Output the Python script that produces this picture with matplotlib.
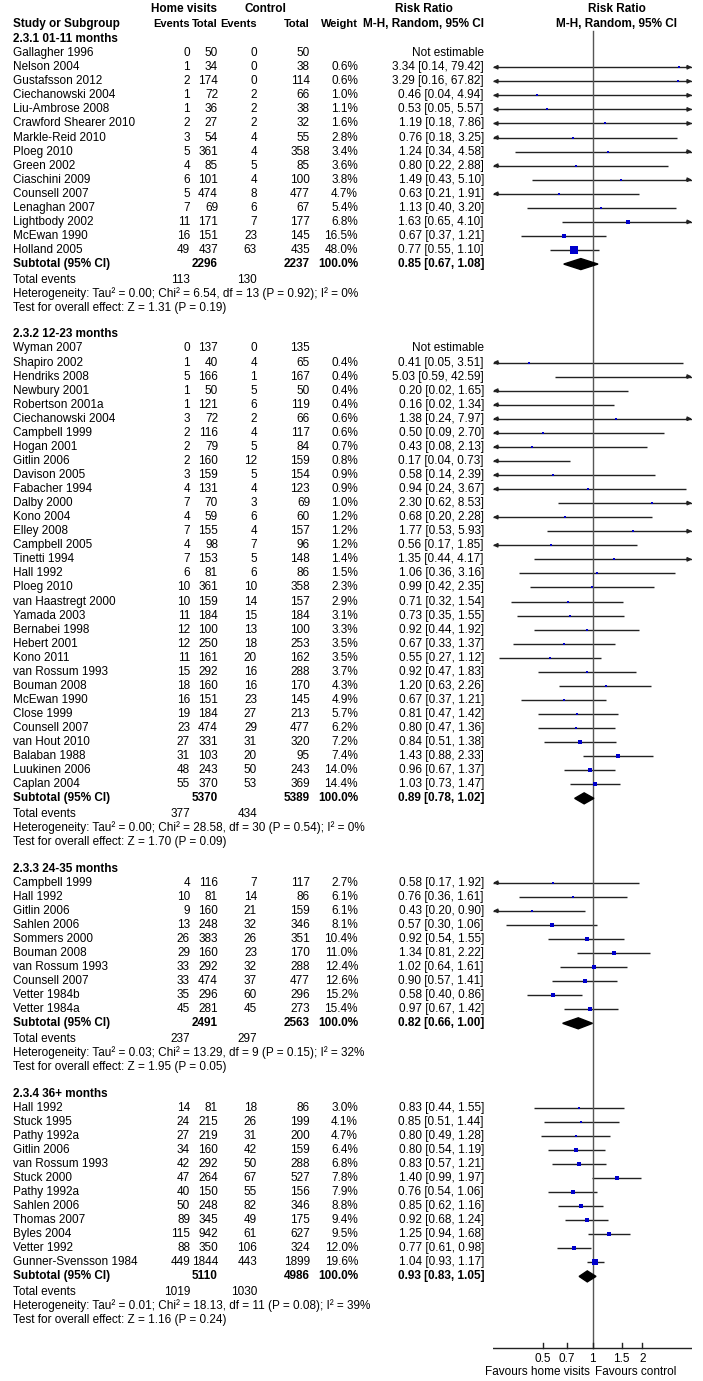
import matplotlib.pyplot as plt
from matplotlib.patches import Polygon

plt.rcParams['font.family'] = ['Liberation Sans', 'DejaVu Sans']

# ---- data -------------------------------------------------------------
titles = ["2.3.1 01-11 months", "2.3.2 12-23 months", "2.3.3 24-35 months", "2.3.4 36+ months"]

names1 = ["Gallagher 1996", "Nelson 2004", "Gustafsson 2012", "Ciechanowski 2004", "Liu-Ambrose 2008",
          "Crawford Shearer 2010", "Markle-Reid 2010", "Ploeg 2010", "Green 2002", "Ciaschini 2009",
          "Counsell 2007", "Lenaghan 2007", "Lightbody 2002", "McEwan 1990", "Holland 2005"]
ev_h1 = [0, 1, 2, 1, 1, 2, 3, 5, 4, 6, 5, 7, 11, 16, 49]
tot_h1 = [50, 34, 174, 72, 36, 27, 54, 361, 85, 101, 474, 69, 171, 151, 437]
ev_c1 = [0, 0, 0, 2, 2, 2, 4, 4, 5, 4, 8, 6, 7, 23, 63]
tot_c1 = [50, 38, 114, 66, 38, 32, 55, 358, 85, 100, 477, 67, 177, 145, 435]
w1 = [None, 0.6, 0.6, 1.0, 1.1, 1.6, 2.8, 3.4, 3.6, 3.8, 4.7, 5.4, 6.8, 16.5, 48.0]
rr1 = [None, 3.34, 3.29, 0.46, 0.53, 1.19, 0.76, 1.24, 0.80, 1.49, 0.63, 1.13, 1.63, 0.67, 0.77]
lo1 = [None, 0.14, 0.16, 0.04, 0.05, 0.18, 0.18, 0.34, 0.22, 0.43, 0.21, 0.40, 0.65, 0.37, 0.55]
hi1 = [None, 79.42, 67.82, 4.94, 5.57, 7.86, 3.25, 4.58, 2.88, 5.10, 1.91, 3.20, 4.10, 1.21, 1.10]

names2 = ["Wyman 2007", "Shapiro 2002", "Hendriks 2008", "Newbury 2001", "Robertson 2001a",
          "Ciechanowski 2004", "Campbell 1999", "Hogan 2001", "Gitlin 2006", "Davison 2005",
          "Fabacher 1994", "Dalby 2000", "Kono 2004", "Elley 2008", "Campbell 2005", "Tinetti 1994",
          "Hall 1992", "Ploeg 2010", "van Haastregt 2000", "Yamada 2003", "Bernabei 1998",
          "Hebert 2001", "Kono 2011", "van Rossum 1993", "Bouman 2008", "McEwan 1990", "Close 1999",
          "Counsell 2007", "van Hout 2010", "Balaban 1988", "Luukinen 2006", "Caplan 2004"]
ev_h2 = [0, 1, 5, 1, 1, 3, 2, 2, 2, 3, 4, 7, 4, 7, 4, 7, 6, 10, 10, 11, 12, 12, 11, 15, 18, 16,
         19, 23, 27, 31, 48, 55]
tot_h2 = [137, 40, 166, 50, 121, 72, 116, 79, 160, 159, 131, 70, 59, 155, 98, 153, 81, 361, 159,
          184, 100, 250, 161, 292, 160, 151, 184, 474, 331, 103, 243, 370]
ev_c2 = [0, 4, 1, 5, 6, 2, 4, 5, 12, 5, 4, 3, 6, 4, 7, 5, 6, 10, 14, 15, 13, 18, 20, 16, 16, 23,
         27, 29, 31, 20, 50, 53]
tot_c2 = [135, 65, 167, 50, 119, 66, 117, 84, 159, 154, 123, 69, 60, 157, 96, 148, 86, 358, 157,
          184, 100, 253, 162, 288, 170, 145, 213, 477, 320, 95, 243, 369]
w2 = [None, 0.4, 0.4, 0.4, 0.4, 0.6, 0.6, 0.7, 0.8, 0.9, 0.9, 1.0, 1.2, 1.2, 1.2, 1.4, 1.5, 2.3,
      2.9, 3.1, 3.3, 3.5, 3.5, 3.7, 4.3, 4.9, 5.7, 6.2, 7.2, 7.4, 14.0, 14.4]
rr2 = [None, 0.41, 5.03, 0.20, 0.16, 1.38, 0.50, 0.43, 0.17, 0.58, 0.94, 2.30, 0.68, 1.77, 0.56,
       1.35, 1.06, 0.99, 0.71, 0.73, 0.92, 0.67, 0.55, 0.92, 1.20, 0.67, 0.81, 0.80, 0.84, 1.43,
       0.96, 1.03]
lo2 = [None, 0.05, 0.59, 0.02, 0.02, 0.24, 0.09, 0.08, 0.04, 0.14, 0.24, 0.62, 0.20, 0.53, 0.17,
       0.44, 0.36, 0.42, 0.32, 0.35, 0.44, 0.33, 0.27, 0.47, 0.63, 0.37, 0.47, 0.47, 0.51, 0.88,
       0.67, 0.73]
hi2 = [None, 3.51, 42.59, 1.65, 1.34, 7.97, 2.70, 2.13, 0.73, 2.39, 3.67, 8.53, 2.28, 5.93, 1.85,
       4.17, 3.16, 2.35, 1.54, 1.55, 1.92, 1.37, 1.12, 1.83, 2.26, 1.21, 1.42, 1.36, 1.38, 2.33,
       1.37, 1.47]

names3 = ["Campbell 1999", "Hall 1992", "Gitlin 2006", "Sahlen 2006", "Sommers 2000", "Bouman 2008",
          "van Rossum 1993", "Counsell 2007", "Vetter 1984b", "Vetter 1984a"]
ev_h3 = [4, 10, 9, 13, 26, 29, 33, 33, 35, 45]
tot_h3 = [116, 81, 160, 248, 383, 160, 292, 474, 296, 281]
ev_c3 = [7, 14, 21, 32, 26, 23, 32, 37, 60, 45]
tot_c3 = [117, 86, 159, 346, 351, 170, 288, 477, 296, 273]
w3 = [2.7, 6.1, 6.1, 8.1, 10.4, 11.0, 12.4, 12.6, 15.2, 15.4]
rr3 = [0.58, 0.76, 0.43, 0.57, 0.92, 1.34, 1.02, 0.90, 0.58, 0.97]
lo3 = [0.17, 0.36, 0.20, 0.30, 0.54, 0.81, 0.64, 0.57, 0.40, 0.67]
hi3 = [1.92, 1.61, 0.90, 1.06, 1.55, 2.22, 1.61, 1.41, 0.86, 1.42]

names4 = ["Hall 1992", "Stuck 1995", "Pathy 1992a", "Gitlin 2006", "van Rossum 1993", "Stuck 2000",
          "Pathy 1992a", "Sahlen 2006", "Thomas 2007", "Byles 2004", "Vetter 1992",
          "Gunner-Svensson 1984"]
ev_h4 = [14, 24, 27, 34, 42, 47, 40, 50, 89, 115, 88, 449]
tot_h4 = [81, 215, 219, 160, 292, 264, 150, 248, 345, 942, 350, 1844]
ev_c4 = [18, 26, 31, 42, 50, 67, 55, 82, 49, 61, 106, 443]
tot_c4 = [86, 199, 200, 159, 288, 527, 156, 346, 175, 627, 324, 1899]
w4 = [3.0, 4.1, 4.7, 6.4, 6.8, 7.8, 7.9, 8.8, 9.4, 9.5, 12.0, 19.6]
rr4 = [0.83, 0.85, 0.80, 0.80, 0.83, 1.40, 0.76, 0.85, 0.92, 1.25, 0.77, 1.04]
lo4 = [0.44, 0.51, 0.49, 0.54, 0.57, 0.99, 0.54, 0.62, 0.68, 0.94, 0.61, 0.93]
hi4 = [1.55, 1.44, 1.28, 1.19, 1.21, 1.97, 1.06, 1.16, 1.24, 1.68, 0.98, 1.17]

sub_tot_h = [2296, 5370, 2491, 5110]
sub_tot_c = [2237, 5389, 2563, 4986]
sub_rr = [0.85, 0.89, 0.82, 0.93]
sub_lo = [0.67, 0.78, 0.66, 0.83]
sub_hi = [1.08, 1.02, 1.00, 1.05]
sub_ev_h = [113, 377, 237, 1019]
sub_ev_c = [130, 434, 297, 1030]
heterogeneity = ["Tau² = 0.00; Chi² = 6.54, df = 13 (P = 0.92); I² = 0%",
                 "Tau² = 0.00; Chi² = 28.58, df = 30 (P = 0.54); I² = 0%",
                 "Tau² = 0.03; Chi² = 13.29, df = 9 (P = 0.15); I² = 32%",
                 "Tau² = 0.01; Chi² = 18.13, df = 11 (P = 0.08); I² = 39%"]
overall = ["Z = 1.31 (P = 0.19)", "Z = 1.70 (P = 0.09)", "Z = 1.95 (P = 0.05)", "Z = 1.16 (P = 0.24)"]

ticks = [0.5, 0.7, 1, 1.5, 2]
tick_labels = ["0.5", "0.7", "1", "1.5", "2"]

sections = [
    (names1, ev_h1, tot_h1, ev_c1, tot_c1, w1, rr1, lo1, hi1),
    (names2, ev_h2, tot_h2, ev_c2, tot_c2, w2, rr2, lo2, hi2),
    (names3, ev_h3, tot_h3, ev_c3, tot_c3, w3, rr3, lo3, hi3),
    (names4, ev_h4, tot_h4, ev_c4, tot_c4, w4, rr4, lo4, hi4),
]

# ---- layout -----------------------------------------------------------
W, H = 703, 1381
XMIN, XMAX = 0.25, 4
FS = 8.5
fig = plt.figure(figsize=(W / 100, H / 100), dpi=100)
ax = fig.add_axes([0, 0, 1, 1])
ax.set_xlim(0, W)
ax.set_ylim(H, 0)
ax.axis('off')

# forest panel: log scale 0.25..4, same pixel rows as the table
X0, X1 = 493, 692
fx = fig.add_axes([X0 / W, 0, (X1 - X0) / W, 1])
fx.set_xscale('log')
fx.set_xlim(XMIN, XMAX)
fx.set_ylim(H, 0)
fx.axis('off')

c_name, c_evh, c_toth, c_evc, c_totc, c_w, c_ci = 13, 190, 218, 257, 310, 358, 484
ROW = 14.06
TOP = 11


def row_y(i):
    return TOP + i * ROW


def txt(x, y, s, ha='right', bold=False, size=FS):
    ax.text(x, y, s, ha=ha, va='center', fontsize=size,
            fontweight='bold' if bold else 'normal')


def ci_line(y, lo, hi):
    a, b = max(lo, XMIN), min(hi, XMAX)
    fx.plot([a, b], [y, y], color='#222222', lw=1, solid_capstyle='butt')
    arrow = dict(arrowstyle='-|>', color='#222222', lw=1, mutation_scale=6,
                 shrinkA=0, shrinkB=0)
    if lo < XMIN:
        fx.annotate('', xy=(XMIN, y), xytext=(XMIN * 1.08, y), arrowprops=arrow)
    if hi > XMAX:
        fx.annotate('', xy=(XMAX, y), xytext=(XMAX / 1.08, y), arrowprops=arrow)


# header
HS = 8
txt(184, 9, "Home visits", ha='center', bold=True)
txt(265, 9, "Control", ha='center', bold=True)
txt(424, 9, "Risk Ratio", ha='center', bold=True)
txt(617, 9, "Risk Ratio", ha='center', bold=True)
y_h2 = 24
txt(c_name, y_h2, "Study or Subgroup", ha='left', bold=True)
txt(c_evh, y_h2, "Events", bold=True, size=HS)
txt(c_toth, y_h2, "Total", bold=True, size=HS)
txt(c_evc, y_h2, "Events", bold=True, size=HS)
txt(c_totc, y_h2, "Total", bold=True, size=HS)
txt(c_w, y_h2, "Weight", bold=True, size=HS)
txt(c_ci, y_h2, "M-H, Random, 95% CI", bold=True)
txt(617, y_h2, "M-H, Random, 95% CI", ha='center', bold=True)

line = 2
for k, (nm, eh, th, ec, tc, wt, rr, lo, hi) in enumerate(sections):
    txt(c_name, row_y(line), titles[k], ha='left', bold=True)
    line += 1
    for j in range(len(nm)):
        y = row_y(line)
        txt(c_name, y, nm[j], ha='left')
        txt(c_evh, y, str(eh[j]))
        txt(c_toth, y, str(th[j]))
        txt(c_evc, y, str(ec[j]))
        txt(c_totc, y, str(tc[j]))
        if rr[j] is None:
            txt(c_ci, y, "Not estimable")
        else:
            txt(c_w, y, f"{wt[j]:.1f}%")
            txt(c_ci, y, f"{rr[j]:.2f} [{lo[j]:.2f}, {hi[j]:.2f}]")
            ci_line(y, lo[j], hi[j])
            side = max(2.0, 12 * (wt[j] / 100) ** 0.5)
            fx.plot(rr[j], y, marker='s', ms=side * 0.72, color='#0000cc',
                    mec='#0000cc', mew=0, zorder=5)
        line += 1
    # subtotal
    y = row_y(line)
    txt(c_name, y, "Subtotal (95% CI)", ha='left', bold=True)
    txt(c_toth, y, str(sub_tot_h[k]), bold=True)
    txt(c_totc, y, str(sub_tot_c[k]), bold=True)
    txt(c_w, y, "100.0%", bold=True)
    txt(c_ci, y, f"{sub_rr[k]:.2f} [{sub_lo[k]:.2f}, {sub_hi[k]:.2f}]", bold=True)
    fx.add_patch(Polygon([(sub_lo[k], y), (sub_rr[k], y - 5.5), (sub_hi[k], y),
                          (sub_rr[k], y + 5.5)], closed=True, color='black', zorder=5))
    line += 1
    y = row_y(line) + 1.5
    txt(c_name, y, "Total events", ha='left')
    txt(c_evh, y, str(sub_ev_h[k]))
    txt(c_evc, y, str(sub_ev_c[k]))
    txt(c_name, row_y(line + 1) + 1.5, "Heterogeneity: " + heterogeneity[k], ha='left')
    txt(c_name, row_y(line + 2) + 1.5, "Test for overall effect: " + overall[k], ha='left')
    line += 4

# null line and axis
y_axis = 1348
fx.plot([1, 1], [31, y_axis], color='#555555', lw=1)
fx.plot([XMIN, XMAX], [y_axis, y_axis], color='#222222', lw=1)
for t, lab in zip(ticks, tick_labels):
    fx.plot([t, t], [y_axis - 5, y_axis], color='#222222', lw=1)
    fx.text(t, y_axis + 11, lab, ha='center', va='center', fontsize=8.5)
fx.text(0.97, 1372, "Favours home visits", ha='right', va='center', fontsize=8.5)
fx.text(1.03, 1372, "Favours control", ha='left', va='center', fontsize=8.5)

fig.savefig("out.png", dpi=100)
